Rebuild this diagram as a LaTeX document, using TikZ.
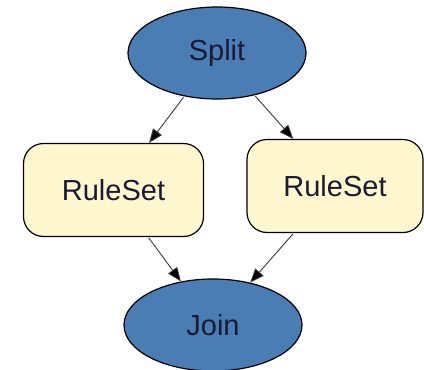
\documentclass[tikz,border=0pt]{standalone}
\usepackage{fontspec}
\setmainfont{Liberation Sans}
\usetikzlibrary{shapes.geometric,arrows.meta}
\definecolor{opblue}{HTML}{4A7DB4}
\definecolor{ruleyellow}{HTML}{FFF8CF}
\definecolor{labelink}{HTML}{1A1A33}
\definecolor{edgegray}{HTML}{3A3A3A}
\tikzset{
  opnode/.style={ellipse, draw=black, line width=1.2pt, fill=opblue,
    minimum width=178pt, minimum height=92pt, inner sep=0pt,
    font=\fontsize{29}{32}\selectfont, text=labelink},
  rulenode/.style={rectangle, rounded corners=20pt, draw=black, line width=1.2pt,
    fill=ruleyellow, minimum height=93pt, inner sep=0pt,
    font=\fontsize{29}{32}\selectfont, text=labelink},
  flow/.style={draw=edgegray, line width=0.9pt, shorten <=1pt,
    -{Triangle[length=14pt,width=11pt,fill=black]}}
}
\begin{document}
\begin{tikzpicture}[x=1pt,y=-1pt]
  \useasboundingbox (0,0) rectangle (424,370);
  % operator ellipses and rule-set boxes
  \node[opnode] (split) at (217,53) {Split};
  \node[rulenode, minimum width=180pt] (left) at (113.5,190) {RuleSet};
  \node[rulenode, minimum width=176pt] (right) at (335,186) {RuleSet};
  \node[opnode] (join) at (213,325) {Join};
  % data flow
  \draw[flow] (split) -- (left);
  \draw[flow] (split) -- (right);
  \draw[flow] (left) -- (join);
  \draw[flow] (right) -- (join);
\end{tikzpicture}
\end{document}
